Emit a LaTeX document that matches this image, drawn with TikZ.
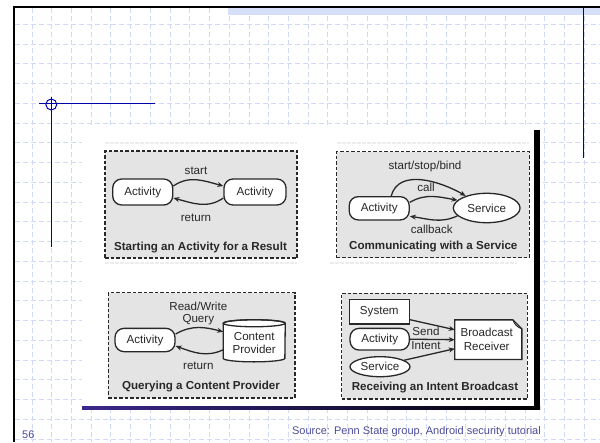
\documentclass[tikz,border=0pt]{standalone}
\usepackage{fontspec}
\setmainfont{Liberation Sans}
\usetikzlibrary{arrows.meta,shapes.geometric}
\definecolor{gridc}{RGB}{208,218,248}
\definecolor{markb}{RGB}{0,0,170}
\definecolor{panelg}{RGB}{228,228,228}
\definecolor{ink}{RGB}{40,40,40}
\definecolor{footc}{RGB}{75,75,155}
\definecolor{bandc}{RGB}{214,223,250}
\definecolor{purp}{RGB}{60,40,140}
\definecolor{faint}{RGB}{236,236,236}
\begin{document}
\begin{tikzpicture}[x=1pt,y=-1pt,
  gridline/.style={gridc, line width=0.8pt, dash pattern=on 5pt off 3pt},
  markline/.style={markb, line width=1pt},
  panel/.style={draw=ink, fill=panelg, line width=1.2pt, dash pattern=on 3.5pt off 2pt, inner sep=0pt},
  shp/.style={draw=ink, fill=white, line width=1.3pt, text=ink, font=\fontsize{11.6}{14}\selectfont, inner sep=0pt},
  roundbox/.style={shp, rounded corners=9pt},
  sqbox/.style={shp},
  ovalbox/.style={shp, ellipse},
  holder/.style={inner sep=0pt, draw=none},
  lbl/.style={text=ink, font=\fontsize{11.6}{13.5}\selectfont, inner sep=0pt, align=center},
  ttl/.style={text=ink, font=\bfseries\fontsize{11.6}{14}\selectfont, inner sep=0pt},
  arr/.style={draw=ink, line width=1.3pt, -{Stealth[length=6pt,width=5pt]}},
  foot/.style={text=footc, font=\fontsize{11}{13}\selectfont, inner sep=0pt}
]
\useasboundingbox (0,0) rectangle (600,442);
\fill[white] (0,0) rectangle (600,442);
% background grid
\foreach \i in {0,...,28} \draw[gridline] ({32+19.72*\i},8) -- ({32+19.72*\i},442);
\foreach \j in {0,...,21} \draw[gridline] (15,{24.3+19.75*\j}) -- (600,{24.3+19.75*\j});
% top band
\fill[bandc] (228,7.5) rectangle (600,15);
% frame
\draw[black, line width=2pt] (13.5,442) -- (13.5,6.5) -- (600,6.5);
% blue marks
\draw[markline] (39,103.3) -- (155,103.3);
\draw[markline] (51.3,97) -- (51.3,247.3);
\draw[markline] (51.3,104.5) circle[radius=5.5pt];
\draw[markline] (583.5,7.5) -- (583.5,157.7);
% picture
\fill[white] (82,127) rectangle (534,407);
\fill[black] (534,130) rectangle (540,410);
\shade[left color=purp, right color=black] (82,406.8) rectangle (540,409.8);
\draw[faint, line width=2.5pt, dash pattern=on 4pt off 1pt] (105,143) -- (297,143);
\draw[faint, line width=2.5pt, dash pattern=on 4pt off 1pt] (337,143) -- (529,143);
\draw[faint, line width=2.5pt, dash pattern=on 4pt off 1pt] (105,263) -- (297,263);
\draw[faint, line width=2.5pt, dash pattern=on 4pt off 1pt] (330,263) -- (517,263);

% ---------- panel 1
\node[panel, minimum width=192pt, minimum height=107pt] (p1) at (201,204.5) {};
\node[roundbox, minimum width=60pt, minimum height=26pt] (a1) at (142.7,192) {Activity};
\node[roundbox, minimum width=62pt, minimum height=26pt] (a2) at (255,192) {Activity};
\draw[arr] ([yshift=6pt]a1.east) to[out=35,in=165] ([yshift=6pt]a2.west);
\draw[arr] ([yshift=-6pt]a2.west) to[out=215,in=-15] ([yshift=-6pt]a1.east);
\node[lbl] (l1a) at (196,170.7) {start};
\node[lbl] (l1b) at (196,218.3) {return};
\node[ttl] (t1) at (200.5,247.3) {Starting an Activity for a Result};

% ---------- panel 2
\node[panel, minimum width=192.6pt, minimum height=106pt] (p2) at (433,204.7) {};
\node[roundbox, minimum width=60pt, minimum height=23.3pt] (b1) at (379.2,208.3) {Activity};
\node[ovalbox, minimum width=66.7pt, minimum height=29.4pt] (sv) at (486.7,208) {Service};
\draw[arr] ([xshift=12pt]b1.north) to[out=75,in=150] (sv.150);
\draw[arr] ([yshift=6pt]b1.east) to[out=30,in=170] (sv.165);
\draw[arr] (sv.195) to[out=205,in=-8] ([yshift=-8pt]b1.east);
\node[lbl] (l2a) at (425,166) {start/stop/bind};
\node[lbl] (l2b) at (426,187.3) {call};
\node[lbl] (l2c) at (431.7,229.3) {callback};
\node[ttl] (t2) at (433.3,246.7) {Communicating with a Service};

% ---------- panel 3
\node[panel, minimum width=186.7pt, minimum height=105.3pt] (p3) at (201.7,345.3) {};
\node[roundbox, minimum width=60pt, minimum height=23.3pt] (a3) at (145,340) {Activity};
\node[holder, minimum width=61.7pt, minimum height=41.7pt] (cp) at (254.2,340.8) {};
\draw[shp] ([yshift=-3.5pt]cp.north west) -- ([yshift=3.5pt]cp.south west)
  arc[start angle=180,end angle=360,x radius=30.85pt,y radius=3.5pt]
  -- ([yshift=-3.5pt]cp.north east)
  arc[start angle=0,end angle=180,x radius=30.85pt,y radius=3.5pt] -- cycle;
\draw[shp, fill=none] ([yshift=-3.5pt]cp.north) ellipse[x radius=30.85pt,y radius=3.5pt];
\node[lbl, align=center] (cpt) at (254.2,343) {Content\\Provider};
\draw[arr] ([yshift=6pt]a3.east) to[out=30,in=165] ([yshift=9pt]cp.west);
\draw[arr] ([yshift=-9pt]cp.west) to[out=205,in=-20] ([yshift=-6pt]a3.east);
\node[lbl] (l3a) at (198.3,306.7) {Read/Write};
\node[lbl] (l3b) at (198.3,320) {Query};
\node[lbl] (l3c) at (198.3,366) {return};
\node[ttl] (t3) at (201,386.7) {Querying a Content Provider};

% ---------- panel 4
\node[panel, minimum width=185.6pt, minimum height=105.7pt] (p4) at (434.5,346.2) {};
\node[sqbox, minimum width=60pt, minimum height=24.7pt] (sys) at (379.3,311.7) {System};
\node[roundbox, minimum width=59.3pt, minimum height=21.7pt] (a4) at (379.7,339.2) {Activity};
\node[ovalbox, minimum width=60pt, minimum height=20pt] (s4) at (380,366.7) {Service};
\node[holder, minimum width=66.7pt, minimum height=39.3pt] (br) at (488.3,339.7) {};
\draw[shp] (br.north west) -- ([xshift=-9pt]br.north east) -- ([yshift=-9pt]br.north east)
  -- (br.south east) -- (br.south west) -- cycle;
\draw[shp, fill=none, line width=0.9pt] ([xshift=-9pt]br.north east) to[bend right=25] ([yshift=-9pt]br.north east);
\node[lbl, align=center] (brt) at (486.7,339.3) {Broadcast\\Receiver};
\draw[arr] ([yshift=-8pt]sys.east) -- ([yshift=10pt]br.west);
\draw[arr] (a4.east) -- (br.west);
\draw[arr] (s4.15) -- ([yshift=-9pt]br.west);
\node[lbl] (l4a) at (426,331.7) {Send};
\node[lbl] (l4b) at (426,346) {Intent};
\node[ttl] (t4) at (435,387.3) {Receiving an Intent Broadcast};

% footer
\node[foot, anchor=base east] (src) at (541,434) {Source: Penn State group, Android security tutorial};
\node[foot, anchor=base west] (pg) at (22,438) {56};
\end{tikzpicture}
\end{document}
